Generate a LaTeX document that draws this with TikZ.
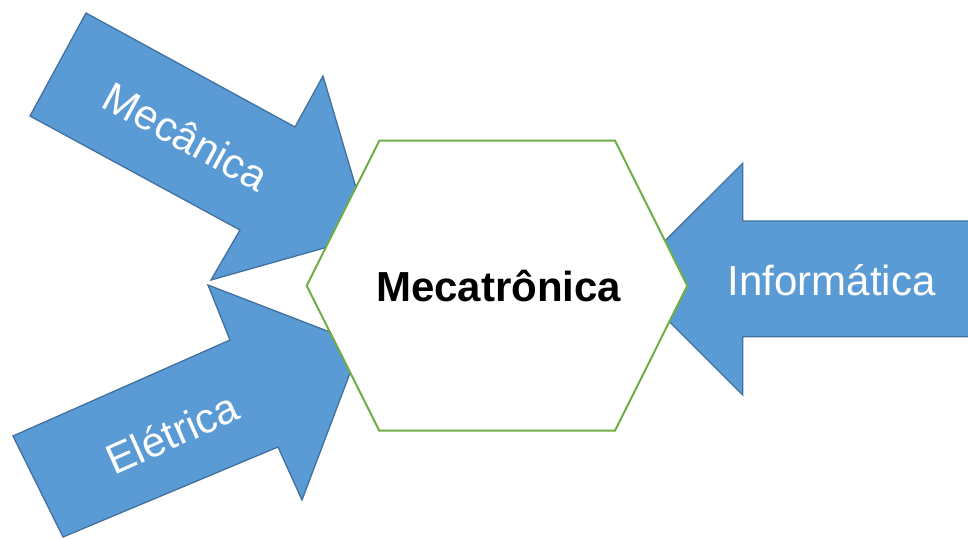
\documentclass[tikz,border=0pt]{standalone}
\usepackage{fontspec}
\setmainfont{Liberation Sans}
\begin{document}
\begin{tikzpicture}[x=1pt,y=-1pt,
  arrowshape/.style={fill=arrowblue,draw=arrowedge,line width=1.3pt,line join=miter},
  hexshape/.style={fill=white,draw=hexgreen,line width=2pt,line join=miter},
  armlabel/.style={text=white,font=\fontsize{42}{50}\selectfont,inner sep=0pt},
  centerlabel/.style={text=black,font=\fontsize{42}{50}\selectfont\bfseries,inner sep=0pt}]
\definecolor{arrowblue}{HTML}{5B9BD5}
\definecolor{arrowedge}{HTML}{41719C}
\definecolor{hexgreen}{HTML}{70AD47}
\useasboundingbox (0,0) rectangle (968,539);
\clip (0,0) rectangle (968,539);
% Mecanica arrow
\draw[arrowshape] (86,13) -- (295,127) -- (323,76) -- (370,235) -- (211,280) -- (240,230) -- (30,116) -- cycle;
% Eletrica arrow
\draw[arrowshape] (13,436) -- (230,340) -- (208,285) -- (361,344) -- (302,500) -- (278,447) -- (63,537) -- cycle;
% Informatica arrow
\draw[arrowshape] (985,221) -- (742.7,221) -- (742.7,163.3) -- (626.7,279) -- (742.7,395) -- (742.7,336.7) -- (985,336.7) -- cycle;
% hexagon
\draw[hexshape] (379.3,140.7) -- (615,140.7) -- (687.3,285.7) -- (615,430.7) -- (379.3,430.7) -- (306.7,285.7) -- cycle;
\node[centerlabel,anchor=base] (mecatronica) at (498.7,301.7) {Mecatrônica};
\node[armlabel,anchor=base] (informatica) at (831.6,295) {Informática};
\node[armlabel,rotate=-28.6] (mecanica) at (186,136) {Mecânica};
\node[armlabel,rotate=24] (eletrica) at (172,433) {Elétrica};
\end{tikzpicture}
\end{document}
